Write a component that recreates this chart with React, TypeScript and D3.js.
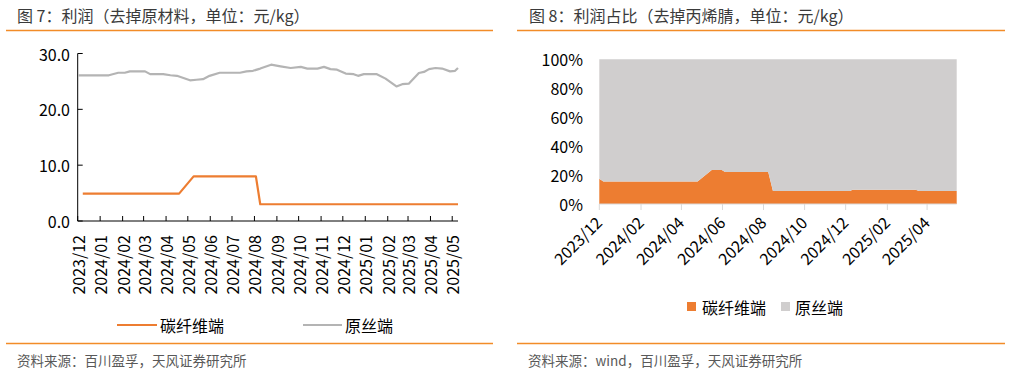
import React from 'react';
import * as d3 from 'd3';

// 图7 利润（元/kg）
const yarnDates = ['2023-12-02', '2024-01-13', '2024-01-26', '2024-02-04', '2024-02-11', '2024-03-03', '2024-03-10', '2024-03-28', '2024-04-07', '2024-04-16', '2024-04-25', '2024-05-04', '2024-05-13', '2024-05-22', '2024-05-31', '2024-06-14', '2024-07-12', '2024-07-21', '2024-07-30', '2024-08-09', '2024-08-24', '2024-09-06', '2024-09-20', '2024-10-04', '2024-10-13', '2024-10-27', '2024-11-05', '2024-11-14', '2024-11-23', '2024-12-05', '2024-12-16', '2024-12-22', '2024-12-30', '2025-01-17', '2025-01-29', '2025-02-13', '2025-02-21', '2025-03-02', '2025-03-16', '2025-03-23', '2025-03-30', '2025-04-08', '2025-04-17', '2025-04-28', '2025-05-05', '2025-05-09'];
const yarnProfit = [26.1, 26.1, 26.55, 26.55, 26.8, 26.8, 26.3, 26.3, 26.1, 26.0, 25.6, 25.2, 25.3, 25.4, 26.0, 26.55, 26.55, 26.8, 26.9, 27.3, 28.0, 27.7, 27.4, 27.6, 27.3, 27.3, 27.6, 27.2, 27.1, 26.4, 26.3, 26.0, 26.3, 26.3, 25.5, 24.1, 24.5, 24.6, 26.5, 26.7, 27.2, 27.4, 27.3, 26.8, 26.9, 27.4];

const fiberDates = ['2023-12-08', '2024-04-19', '2024-05-09', '2024-08-03', '2024-08-09', '2025-05-09'];
const fiberProfit = [4.9, 4.9, 8.0, 8.0, 3.0, 3.0];

const leftTicks = ['2023/12', '2024/01', '2024/02', '2024/03', '2024/04', '2024/05', '2024/06', '2024/07', '2024/08', '2024/09', '2024/10', '2024/11', '2024/12', '2025/01', '2025/02', '2025/03', '2025/04', '2025/05'];
const leftYTicks = [0, 10, 20, 30];

// 图8 利润占比（%）
const shareDates = ['2023-12-01', '2023-12-07', '2024-04-25', '2024-05-16', '2024-05-31', '2024-06-05', '2024-08-08', '2024-08-15', '2024-12-08', '2024-12-11', '2025-03-15', '2025-03-20', '2025-05-15'];
const fiberShare = [17.5, 15.5, 15.5, 23.5, 23.5, 22.1, 22.1, 9.0, 9.0, 9.9, 9.9, 9.0, 9.0];
const rightTicks = ['2023/12', '2024/02', '2024/04', '2024/06', '2024/08', '2024/10', '2024/12', '2025/02', '2025/04'];
const rightYTicks = [0, 20, 40, 60, 80, 100];

const ORANGE = '#ED7D31';
const GRAY_LINE = '#B4B4B4';
const GRAY_AREA = '#D0CECE';
const RULE = '#F28C28';
const FONT = '"Noto Sans CJK SC", "Noto Sans", sans-serif';

const parse = d3.timeParse('%Y-%m-%d');
const parseTick = d3.timeParse('%Y/%m');

const App = () => {
  // left chart scales
  const xL = d3.scaleTime()
    .domain([parse('2023-12-01')!, parse('2025-05-09')!])
    .range([77.7, 458]);
  const yL = d3.scaleLinear().domain([0, 30]).range([221, 53.5]);

  const line = d3.line<[Date, number]>()
    .x(d => xL(d[0]))
    .y(d => yL(d[1]));

  const yarnPts = yarnDates.map((d, i) => [parse(d)!, yarnProfit[i]] as [Date, number]);
  const fiberPts = fiberDates.map((d, i) => [parse(d)!, fiberProfit[i]] as [Date, number]);

  // right chart scales
  const xR = d3.scaleTime()
    .domain([parse('2023-12-01')!, parse('2025-05-15')!])
    .range([599.3, 956.7]);
  const yR = d3.scaleLinear().domain([0, 100]).range([204, 59.3]);

  const rows = shareDates.map((d, i) => ({ date: parse(d)!, fiber: fiberShare[i], yarn: 100 - fiberShare[i] }));
  const stacked = d3.stack<any>().keys(['fiber', 'yarn'])(rows);
  const area = d3.area<any>()
    .x(d => xR(d.data.date))
    .y0(d => yR(d[0]))
    .y1(d => yR(d[1]));

  const x0 = xL.range()[0];
  const x1 = xL.range()[1];

  return (
    <div style={{ position: 'absolute', left: 0, top: 0 }}>
      <svg width={1011} height={372} style={{ display: 'block', fontFamily: FONT }}>
        <rect width={1011} height={372} fill="#fff" />

        {/* titles */}
        <text x={17} y={15} fontSize={16} fill="#3a3a3a" dominantBaseline="central">图 7：利润（去掉原材料，单位：元/kg）</text>
        <text x={529} y={15} fontSize={16} fill="#3a3a3a" dominantBaseline="central">图 8：利润占比（去掉丙烯腈，单位：元/kg）</text>
        <line x1={6} x2={493} y1={30.5} y2={30.5} stroke={RULE} strokeWidth={1.5} />
        <line x1={517} x2={1005} y1={30.5} y2={30.5} stroke={RULE} strokeWidth={1.5} />
        <line x1={6} x2={493} y1={343.5} y2={343.5} stroke={RULE} strokeWidth={1.5} />
        <line x1={517} x2={1005} y1={343.5} y2={343.5} stroke={RULE} strokeWidth={1.5} />

        {/* left chart */}
        <g>
          {leftYTicks.map(v => (
            <g key={v}>
              <line x1={x0} x2={x0 + 5} y1={yL(v)} y2={yL(v)} stroke="#000" />
              <text x={70} y={yL(v)} fontSize={16} textAnchor="end" dominantBaseline="central" fill="#000">{v.toFixed(1)}</text>
            </g>
          ))}
          <line x1={x0} x2={x0} y1={yL(30)} y2={yL(0)} stroke="#000" />
          <line x1={x0} x2={x1} y1={yL(0)} y2={yL(0)} stroke="#000" />
          {leftTicks.map(t => {
            const x = xL(parseTick(t)!);
            return (
              <g key={t}>
                <line x1={x} x2={x} y1={yL(0)} y2={yL(0) - 5} stroke="#000" />
                <text transform={`translate(${x},235) rotate(-90)`} fontSize={16} textAnchor="end" dominantBaseline="central" fill="#000">{t}</text>
              </g>
            );
          })}
          <path d={line(yarnPts)!} fill="none" stroke={GRAY_LINE} strokeWidth={2.2} strokeLinejoin="round" />
          <path d={line(fiberPts)!} fill="none" stroke={ORANGE} strokeWidth={2.2} strokeLinejoin="round" />

          {/* legend */}
          <line x1={117} x2={157} y1={325} y2={325} stroke={ORANGE} strokeWidth={2.2} />
          <text x={160} y={325} fontSize={16} dominantBaseline="central" fill="#000">碳纤维端</text>
          <line x1={303} x2={342} y1={325} y2={325} stroke={GRAY_LINE} strokeWidth={2.2} />
          <text x={345} y={325} fontSize={16} dominantBaseline="central" fill="#000">原丝端</text>
        </g>

        {/* right chart */}
        <g>
          {stacked.map((s, i) => (
            <path key={s.key} d={area(s as any)!} fill={i === 0 ? ORANGE : GRAY_AREA} />
          ))}
          <line x1={xR.range()[0]} x2={xR.range()[1]} y1={yR(0)} y2={yR(0)} stroke="#D9D9D9" />
          {rightYTicks.map(v => (
            <text key={v} x={583} y={yR(v)} fontSize={16} textAnchor="end" dominantBaseline="central" fill="#000">{v}%</text>
          ))}
          {rightTicks.map(t => {
            const x = xR(parseTick(t)!);
            return (
              <g key={t}>
                <line x1={x} x2={x} y1={yR(0)} y2={yR(0) + 6} stroke="#D9D9D9" />
                <text transform={`translate(${x - 1},219) rotate(-45)`} fontSize={16} textAnchor="end" dominantBaseline="central" fill="#000">{t}</text>
              </g>
            );
          })}
          <rect x={687} y={302} width={9} height={9} fill={ORANGE} />
          <text x={702} y={306.5} fontSize={16} dominantBaseline="central" fill="#000">碳纤维端</text>
          <rect x={781} y={302} width={9} height={9} fill={GRAY_AREA} />
          <text x={795} y={306.5} fontSize={16} dominantBaseline="central" fill="#000">原丝端</text>
        </g>

        {/* sources */}
        <text x={17} y={360} fontSize={13.5} fill="#595959" dominantBaseline="central">资料来源：百川盈孚，天风证券研究所</text>
        <text x={528} y={360} fontSize={13.5} fill="#595959" dominantBaseline="central">资料来源：wind，百川盈孚，天风证券研究所</text>
      </svg>
    </div>
  );
};

export default App;
